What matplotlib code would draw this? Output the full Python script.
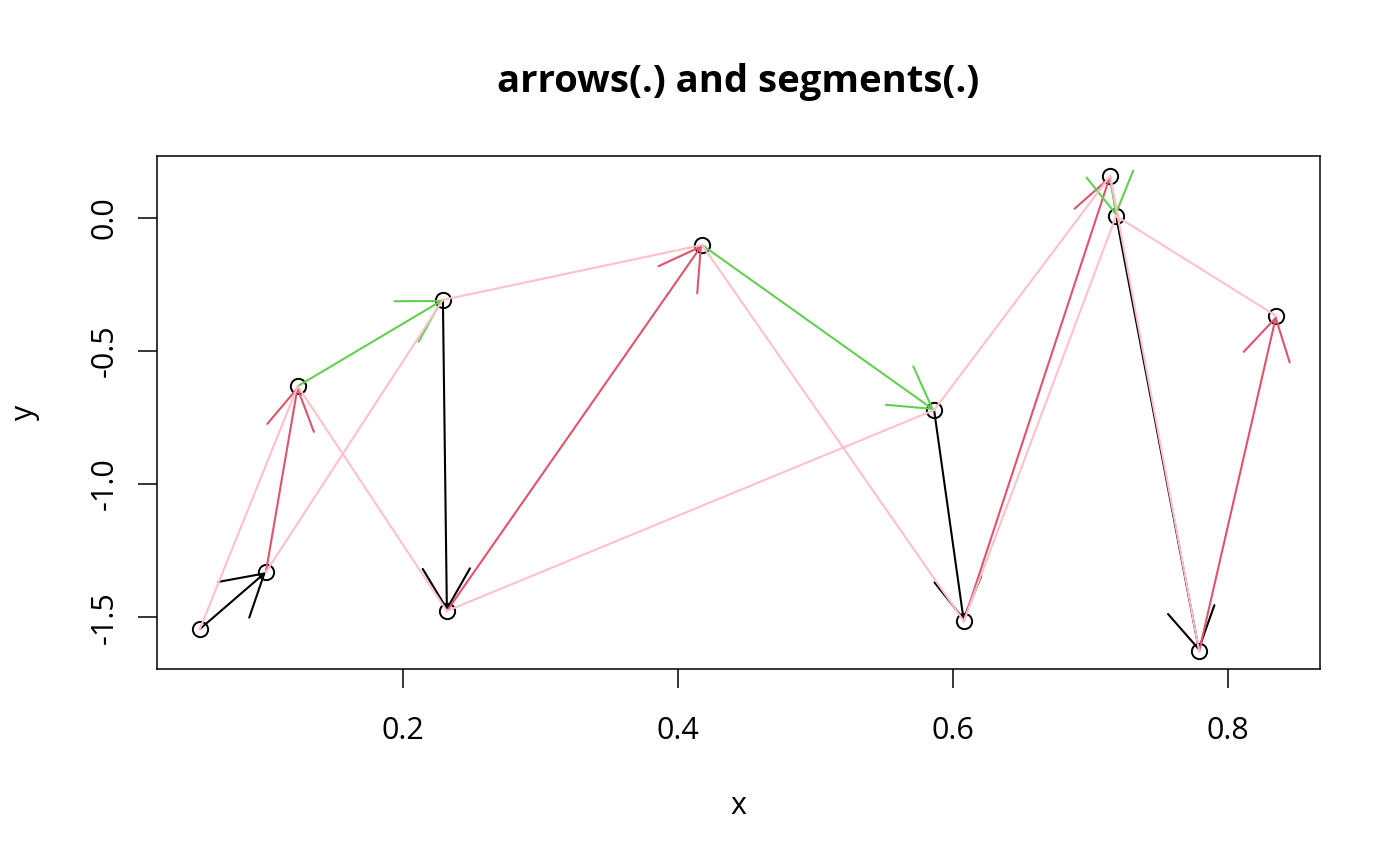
import matplotlib
matplotlib.use("Agg")
import matplotlib.pyplot as plt
from matplotlib.patches import FancyArrowPatch, ArrowStyle

plt.rcParams['font.family'] = ['Open Sans', 'DejaVu Sans']

# points, sorted by x
x = [0.0524, 0.1004, 0.1236, 0.2291, 0.2320, 0.4175,
     0.5862, 0.6078, 0.7142, 0.7185, 0.7789, 0.8349]
y = [-1.545, -1.331, -0.632, -0.308, -1.477, -0.1015,
     -0.722, -1.515, 0.158, 0.0075, -1.628, -0.368]

palette = ['black', '#DF536B', '#61D04F']
pink = 'pink'

fig = plt.figure(figsize=(14, 8.66), dpi=100)
ax = fig.add_axes([0.112, 0.2275, 0.831, 0.5924])

ax.plot(x, y, 'o', mfc='none', mec='black', ms=11, mew=1.4, zorder=2)

# arrows from point to point, colours cycling 1:3
head = ArrowStyle('->', head_length=29, head_width=17)
n = len(x)
for i in range(n - 1):
    arr = FancyArrowPatch((x[i], y[i]), (x[i + 1], y[i + 1]),
                          arrowstyle=head, mutation_scale=1,
                          shrinkA=0, shrinkB=0,
                          color=palette[i % 3], lw=1.5, zorder=3)
    ax.add_patch(arr)

# segments skipping one point
for i in range(n - 2):
    ax.plot([x[i], x[i + 2]], [y[i], y[i + 2]], color=pink, lw=1.5, zorder=4)

ax.set_xlim(0.0211, 0.8669)
ax.set_ylim(-1.695, 0.233)
ax.set_xticks([0.2, 0.4, 0.6, 0.8])
ax.set_xticklabels(['0.2', '0.4', '0.6', '0.8'])
ax.set_yticks([0.0, -0.5, -1.0, -1.5])
ax.set_yticklabels(['0.0', '-0.5', '-1.0', '-1.5'], rotation=90, va='center')
ax.tick_params(direction='out', length=13.5, width=1.1, labelsize=22)
ax.tick_params(axis='x', pad=20)
ax.tick_params(axis='y', pad=13)
for s in ax.spines.values():
    s.set_linewidth(1.1)

ax.set_xlabel('x', fontsize=22, labelpad=33)
ax.set_ylabel('y', fontsize=22, labelpad=36)
ax.set_title('arrows(.) and segments(.)', fontsize=27.5, fontweight='bold', pad=46)

fig.savefig('out.png', dpi=100)
